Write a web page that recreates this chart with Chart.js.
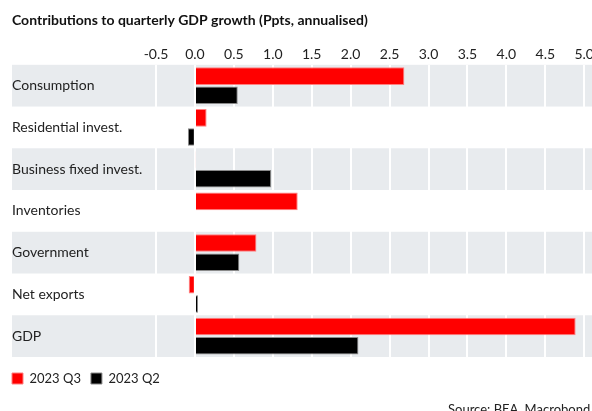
<!DOCTYPE html>
<html>
<head>
<meta charset="utf-8">
<script src="https://cdn.jsdelivr.net/npm/chart.js@4/dist/chart.umd.min.js"></script>
<style>
  html, body { margin: 0; padding: 0; background: #fff; overflow: hidden; }
  #wrap { width: 592px; height: 411px; }
</style>
</head>
<body>
<div id="wrap"><canvas id="gdp-chart"></canvas></div>
<script>
"use strict";

const categories = ["Consumption", "Residential invest.", "Business fixed invest.", "Inventories", "Government", "Net exports", "GDP"];
const q3Values = [2.69, 0.15, 0.01, 1.32, 0.79, -0.08, 4.89];
const q2Values = [0.55, -0.09, 0.98, 0.0, 0.57, 0.04, 2.1];
const tickValues = [-0.5, 0, 0.5, 1, 1.5, 2, 2.5, 3, 3.5, 4, 4.5, 5];

const FONT = "Lato";
const BAND = "#e8ebee";
const TEXT = "#222";

// grey bands behind every other row, also under the category labels
const bandPlugin = {
  id: "bands",
  afterLayout(chart) {
    // nudge the legend so it lines up with the labels on the left
    chart.legend.left -= 10;
    chart.legend.top += 5;
  },
  beforeDraw(chart) {
    const { ctx, chartArea, scales } = chart;
    const y = scales.y;
    const step = (chartArea.bottom - chartArea.top) / categories.length;
    ctx.save();
    ctx.fillStyle = BAND;
    categories.forEach((c, i) => {
      if (i % 2) return;
      const mid = y.getPixelForValue(i);
      ctx.fillRect(12, mid - step / 2, chart.width - 12, step);
    });
    ctx.restore();
  },
  afterDraw(chart) {
    const { ctx } = chart;
    ctx.save();
    ctx.fillStyle = TEXT;
    ctx.font = "13px " + FONT;
    ctx.textBaseline = "top";
    ctx.fillText("Source: BEA, Macrobond", 448, 403);
    ctx.restore();
  },
};

new Chart(document.getElementById("gdp-chart"), {
  type: "bar",
  data: {
    labels: categories,
    datasets: [
      {
        label: "2023 Q3",
        data: q3Values,
        backgroundColor: "#ff0000",
        borderColor: "#ff8080",
        borderWidth: 1,
      },
      {
        label: "2023 Q2",
        data: q2Values,
        backgroundColor: "#000000",
        borderColor: "#8a8a8a",
        borderWidth: 1,
      },
    ],
  },
  options: {
    indexAxis: "y",
    responsive: true,
    maintainAspectRatio: false,
    animation: false,
    categoryPercentage: 0.92,
    barPercentage: 0.92,
    layout: { padding: { left: 12, right: 0, top: 0, bottom: 21 } },
    scales: {
      x: {
        position: "top",
        min: -0.5,
        max: 5.1,
        afterBuildTicks: (axis) => {
          axis.ticks = tickValues.map((v) => ({ value: v }));
        },
        afterFit: (axis) => {
          axis.height = 26;
          axis.paddingLeft = 0;
          axis.paddingRight = 0;
        },
        ticks: {
          color: TEXT,
          font: { family: FONT, size: 14 },
          padding: 2,
          callback: (v) => Number(v).toFixed(1),
        },
        grid: { color: "#ffffff", lineWidth: 2, drawTicks: false },
        border: { display: false },
      },
      y: {
        afterFit: (axis) => {
          axis.width = 144;
        },
        ticks: {
          color: TEXT,
          crossAlign: "far",
          font: { family: FONT, size: 14 },
        },
        grid: { display: false },
        border: { display: false },
      },
    },
    plugins: {
      title: {
        display: true,
        align: "start",
        text: "Contributions to quarterly GDP growth (Ppts, annualised)",
        color: "#111",
        font: { family: FONT, size: 14, weight: "bold" },
        padding: { top: 12, bottom: 10 },
      },
      legend: {
        position: "bottom",
        align: "start",
        labels: {
          color: TEXT,
          font: { family: FONT, size: 13 },
          boxWidth: 11,
          boxHeight: 11,
          padding: 10,
          useBorderRadius: false,
        },
      },
      tooltip: { enabled: false },
    },
  },
  plugins: [bandPlugin],
});
</script>
</body>
</html>
